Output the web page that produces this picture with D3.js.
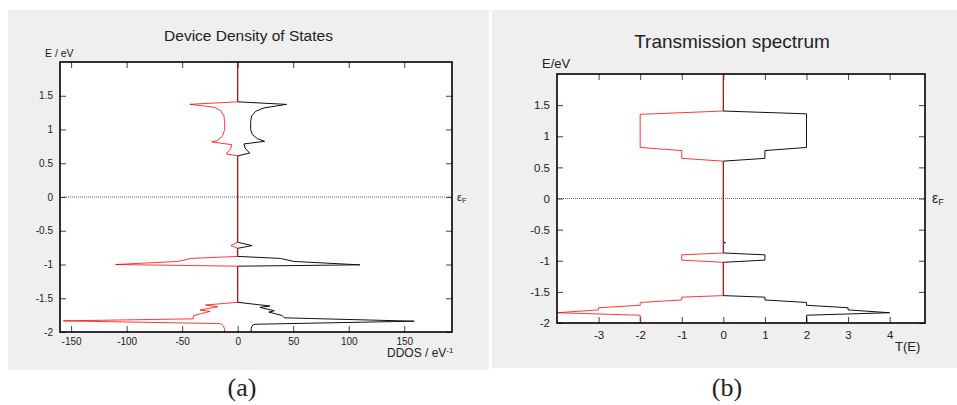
<!DOCTYPE html>
<html>
<head>
<meta charset="utf-8">
<script src="https://cdn.jsdelivr.net/npm/d3@7"></script>
<style>
  body { margin: 0; background: #fff; }
  svg { display: block; }
  text { font-family: "Liberation Sans", Arial, sans-serif; fill: #222; }
</style>
</head>
<body>
<svg id="fig" width="957" height="405"></svg>
<script>
// Device density of states, points as [DDOS (1/eV), E (eV)]; spin up (black) drawn to the right
const ddosUp = [
  [0, 2], [0, 1.41], [44, 1.372], [23.7, 1.32], [16.2, 1.27], [12.6, 1.2], [11.7, 1.12],
  [11.7, 1.0], [13.2, 0.925], [17.7, 0.865], [24.3, 0.825], [5.7, 0.786], [6.6, 0.727],
  [10.8, 0.65], [0, 0.61],
  [0, -0.67], [13, -0.72], [0, -0.76],
  [0, -0.88], [38.6, -0.91], [50.6, -0.955], [110, -1.005], [0, -1.025],
  [0, -1.56], [29, -1.615], [20, -1.635], [33, -1.685], [28, -1.705], [40, -1.755],
  [42, -1.79], [159, -1.84], [16, -1.885], [13.8, -1.895], [12.6, -1.92], [12.2, -1.95], [12, -2]
];
// spin down (red) drawn to the left
const ddosDown = [
  [0, 2], [0, 1.41], [-43.1, 1.373], [-21.3, 1.33], [-15.3, 1.28], [-12.3, 1.2], [-11.7, 1.1],
  [-11.7, 1.0], [-13.8, 0.9], [-18.3, 0.836], [-23.4, 0.816], [-5.4, 0.776], [-6.3, 0.716],
  [-10.2, 0.637], [0, 0.61],
  [0, -0.67], [-6, -0.72], [0, -0.76],
  [0, -0.88], [-42, -0.91], [-54, -0.955], [-110, -1.0], [0, -1.025],
  [0, -1.56], [-29, -1.6], [-18, -1.625], [-34, -1.675], [-25, -1.695], [-40, -1.76],
  [-40, -1.805], [-157, -1.835], [-16.8, -1.875], [-14.5, -1.885], [-12.8, -1.91], [-12, -1.95], [-11.7, -2]
];
const ddosXTicks = [-150, -100, -50, 0, 50, 100, 150];

// Transmission spectrum, points as [T(E), E (eV)]
const transUp = [
  [0, 2], [0, 1.405], [2, 1.36], [2, 0.82], [1, 0.77], [1, 0.645], [0, 0.6],
  [0, -0.7], [0.05, -0.71], [0, -0.72],
  [0, -0.875], [1, -0.905], [1, -0.99], [0, -1.025],
  [0, -1.56], [1, -1.585], [1, -1.63], [2, -1.67], [2, -1.715], [3, -1.755], [3, -1.79],
  [4, -1.835], [2, -1.875], [2, -2]
];
const transDown = [
  [0, 2], [0, 1.405], [-2, 1.352], [-2, 0.82], [-1, 0.77], [-1, 0.645], [0, 0.6],
  [0, -0.875], [-1, -0.905], [-1, -0.99], [0, -1.025],
  [0, -1.56], [-1, -1.585], [-1, -1.63], [-2, -1.67], [-2, -1.715], [-3, -1.755], [-3, -1.79],
  [-4, -1.835], [-2, -1.875], [-2, -2]
];
const transXTicks = [-3, -2, -1, 0, 1, 2, 3, 4];

const energyTicks = [1.5, 1, 0.5, 0, -0.5, -1, -1.5, -2];
const energyDomain = [-2, 2];

const svg = d3.select("#fig");

const panels = [
  {
    bg: [8, 10, 481, 360],
    plot: { left: 60, top: 62, right: 452, bottom: 332 },
    xDomain: [-160, 193],
    xTicks: ddosXTicks,
    up: ddosUp, down: ddosDown,
    tickFont: 10, xPad: 6,
    title: "Device Density of States", titleX: 248.5, titleY: 41, titleSize: 15.5,
    yLabel: "E / eV", yLabelX: 45, yLabelY: 57, yLabelSize: 10.5,
    xLabel: "DDOS / eV", xLabelSup: "-1", xLabelX: 387, xLabelY: 356.5, xLabelSize: 12,
    fermiX: 457, fermiY: 201, fermiSize: 11,
    caption: "(a)", captionX: 242
  },
  {
    bg: [492, 10, 465, 358],
    plot: { left: 557, top: 74, right: 925, bottom: 323 },
    xDomain: [-4, 4.85],
    xTicks: transXTicks,
    up: transUp, down: transDown,
    tickFont: 11.5, xPad: 8,
    title: "Transmission spectrum", titleX: 732, titleY: 48, titleSize: 19,
    yLabel: "E/eV", yLabelX: 542, yLabelY: 68, yLabelSize: 13,
    xLabel: "T(E)", xLabelSup: null, xLabelX: 895, xLabelY: 351, xLabelSize: 13,
    fermiX: 932, fermiY: 203, fermiSize: 14,
    caption: "(b)", captionX: 727
  }
];

panels.forEach(p => {
  const g = svg.append("g");
  g.append("rect")
    .attr("x", p.bg[0]).attr("y", p.bg[1])
    .attr("width", p.bg[2]).attr("height", p.bg[3])
    .attr("fill", "#efefef");

  const { left, top, right, bottom } = p.plot;
  g.append("rect")
    .attr("x", left).attr("y", top)
    .attr("width", right - left).attr("height", bottom - top)
    .attr("fill", "#fff");

  const x = d3.scaleLinear().domain(p.xDomain).range([left, right]);
  const y = d3.scaleLinear().domain(energyDomain).range([bottom, top]);

  // Fermi level
  g.append("line")
    .attr("x1", left).attr("x2", right)
    .attr("y1", y(0)).attr("y2", y(0))
    .attr("stroke", "#666").attr("stroke-width", 1)
    .attr("stroke-dasharray", "1,1");

  const styleAxis = (sel, font) => {
    sel.select(".domain").remove();
    sel.selectAll(".tick line").attr("stroke", "#444").attr("stroke-width", 1);
    sel.selectAll(".tick text").attr("font-size", font).attr("fill", "#222")
      .attr("font-family", "Liberation Sans, Arial, sans-serif");
  };
  const fmt = d => String(d);

  g.append("g").attr("transform", `translate(${left},0)`)
    .call(d3.axisLeft(y).tickValues(energyTicks).tickSize(-6).tickPadding(7).tickFormat(fmt))
    .call(s => styleAxis(s, p.tickFont));
  g.append("g").attr("transform", `translate(${right},0)`)
    .call(d3.axisRight(y).tickValues(energyTicks).tickSize(-6).tickFormat(() => ""))
    .call(s => styleAxis(s, p.tickFont));
  g.append("g").attr("transform", `translate(0,${bottom})`)
    .call(d3.axisBottom(x).tickValues(p.xTicks).tickSize(-6).tickPadding(p.xPad).tickFormat(fmt))
    .call(s => styleAxis(s, p.tickFont));
  g.append("g").attr("transform", `translate(0,${top})`)
    .call(d3.axisTop(x).tickValues(p.xTicks).tickSize(-6).tickFormat(() => ""))
    .call(s => styleAxis(s, p.tickFont));

  const line = d3.line().x(d => x(d[0])).y(d => y(d[1]));
  g.append("path").datum(p.up)
    .attr("d", line).attr("fill", "none")
    .attr("stroke", "#111").attr("stroke-width", 1).attr("stroke-linejoin", "round");
  g.append("path").datum(p.down)
    .attr("d", line).attr("fill", "none")
    .attr("stroke", "#ff0000").attr("stroke-opacity", 0.78)
    .attr("stroke-width", 1).attr("stroke-linejoin", "round");

  // frame
  g.append("rect")
    .attr("x", left).attr("y", top)
    .attr("width", right - left).attr("height", bottom - top)
    .attr("fill", "none").attr("stroke", "#000").attr("stroke-width", 1.6);

  g.append("text").attr("x", p.titleX).attr("y", p.titleY)
    .attr("text-anchor", "middle").attr("font-size", p.titleSize).attr("fill", "#111")
    .text(p.title);
  g.append("text").attr("x", p.yLabelX).attr("y", p.yLabelY)
    .attr("font-size", p.yLabelSize).text(p.yLabel);

  const xl = g.append("text").attr("x", p.xLabelX).attr("y", p.xLabelY)
    .attr("font-size", p.xLabelSize).text(p.xLabel);
  if (p.xLabelSup) {
    xl.append("tspan").attr("dy", -4).attr("font-size", p.xLabelSize * 0.65).text(p.xLabelSup);
  }

  const ef = g.append("text").attr("x", p.fermiX).attr("y", p.fermiY)
    .attr("font-size", p.fermiSize).attr("fill", "#333").text("ε");
  ef.append("tspan").attr("dy", 2).attr("font-size", p.fermiSize * 0.65).text("F");

  svg.append("text").attr("x", p.captionX).attr("y", 396)
    .attr("text-anchor", "middle")
    .attr("font-size", 26).attr("fill", "#000")
    .style("font-family", "Liberation Serif, Times New Roman, serif")
    .text(p.caption);
});
</script>
</body>
</html>
